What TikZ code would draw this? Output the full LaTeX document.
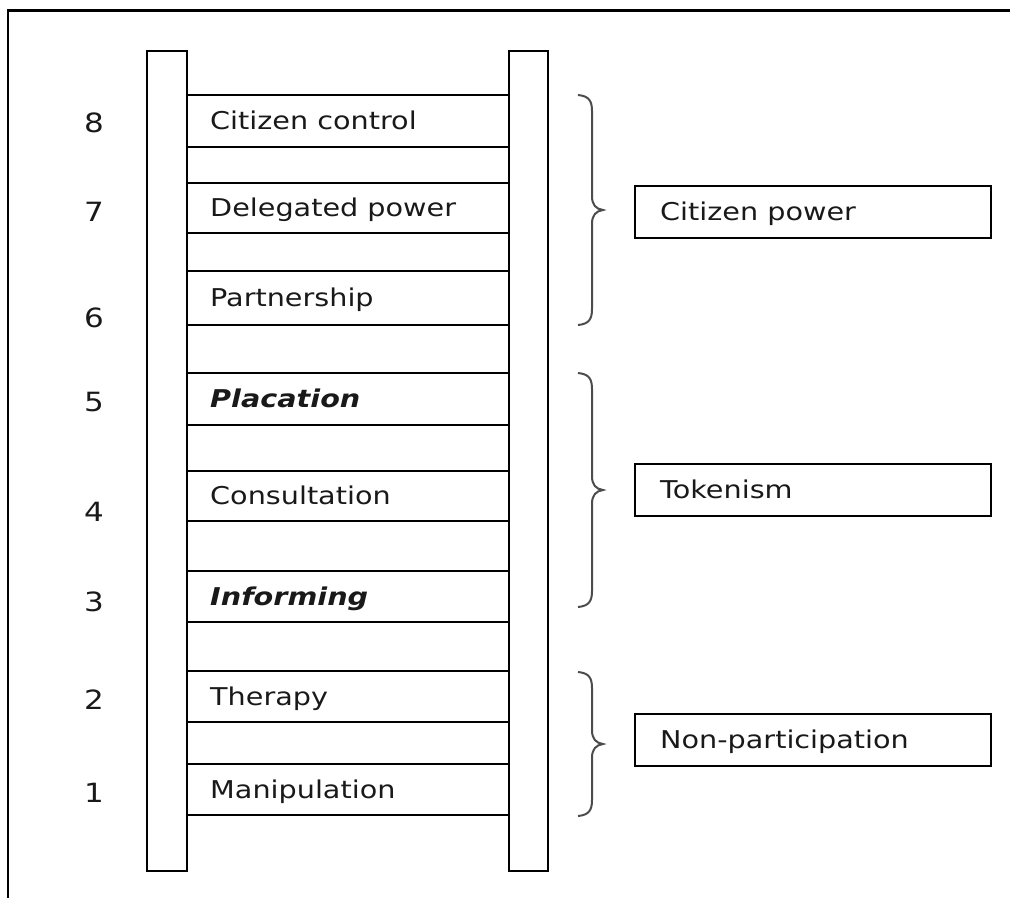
\documentclass[tikz,border=0pt]{standalone}
\usepackage{fontspec}
\setmainfont{DejaVu Sans}[FakeStretch=1.17]
\tikzset{
  rail/.style={draw, line width=2.3pt, minimum width=40pt, minimum height=820pt, inner sep=0pt},
  rung/.style={draw, line width=2.3pt, minimum width=322pt, minimum height=52pt, inner sep=0pt},
  grp/.style={draw, line width=2.3pt, minimum width=356pt, minimum height=52pt, inner sep=0pt},
  lbl/.style={anchor=west, inner sep=0pt, font=\fontsize{24.5}{29}\selectfont, text=black!90, text height=17.9pt, text depth=0pt},
  num/.style={inner sep=0pt, font=\fontsize{26.5}{30}\selectfont, text=black!90, text height=19.3pt, text depth=0pt},
  bracestyle/.style={draw=black!70, line width=2pt},
  frame/.style={draw=black}
}
\newcommand{\ladderbrace}[3]{%
  \draw[bracestyle] (578,#1) .. controls (589,#1+1) and (592,#1+6) .. (592,#1+16)
    -- (592,#2-14) .. controls (592,#2-5) and (596,#2-1) .. (603,#2)
    .. controls (596,#2+1) and (592,#2+5) .. (592,#2+14)
    -- (592,#3-16) .. controls (592,#3-6) and (589,#3-1) .. (578,#3);}
\begin{document}
\begin{tikzpicture}[x=1pt,y=-1pt]
\useasboundingbox (0,0) rectangle (1010,898);
% frame
\draw[frame, line width=3pt] (7,10) -- (1010,10);
\draw[frame, line width=2.4pt] (8,9) -- (8,898);
% rails
\node[rail] (lrail) at (167,461) {};
\node[rail, minimum width=39pt] (rrail) at (528.5,461) {};
% rungs
\node[rung] (r8) at (348,121) {};
\node[rung, minimum height=50pt] (r7) at (348,208) {};
\node[rung, minimum height=54pt] (r6) at (348,298) {};
\node[rung] (r5) at (348,399) {};
\node[rung, minimum height=50pt] (r4) at (348,496) {};
\node[rung, minimum height=51pt] (r3) at (348,596.5) {};
\node[rung, minimum height=51pt] (r2) at (348,696.5) {};
\node[rung, minimum height=51pt] (r1) at (348,789.5) {};
% rung labels
\node[lbl] (t8) at (210,121) {Citizen control};
\node[lbl] (t7) at (210,208) {Delegated power};
\node[lbl] (t6) at (210,298) {Partnership};
\node[lbl] (t5) at (210,399) {\bfseries\itshape Placation};
\node[lbl] (t4) at (210,496) {Consultation};
\node[lbl] (t3) at (210,596.5) {\bfseries\itshape Informing};
\node[lbl] (t2) at (210,696.5) {Therapy};
\node[lbl] (t1) at (210,789.5) {Manipulation};
% numbers
\node[num] (n8) at (94,123) {8};
\node[num] (n7) at (94,212) {7};
\node[num] (n6) at (94,318) {6};
\node[num] (n5) at (94,402) {5};
\node[num] (n4) at (94,512) {4};
\node[num] (n3) at (94,602) {3};
\node[num] (n2) at (94,700) {2};
\node[num] (n1) at (94,793) {1};
% braces
\ladderbrace{95}{210}{325}
\ladderbrace{373}{490}{607}
\ladderbrace{672}{744}{816}
% group boxes
\node[grp] (gcp) at (813,212) {};
\node[lbl] (tcp) at (660,212) {Citizen power};
\node[grp] (gtk) at (813,490) {};
\node[lbl] (ttk) at (660,490) {Tokenism};
\node[grp] (gnp) at (813,740) {};
\node[lbl] (tnp) at (660,740) {Non-participation};
\end{tikzpicture}
\end{document}
